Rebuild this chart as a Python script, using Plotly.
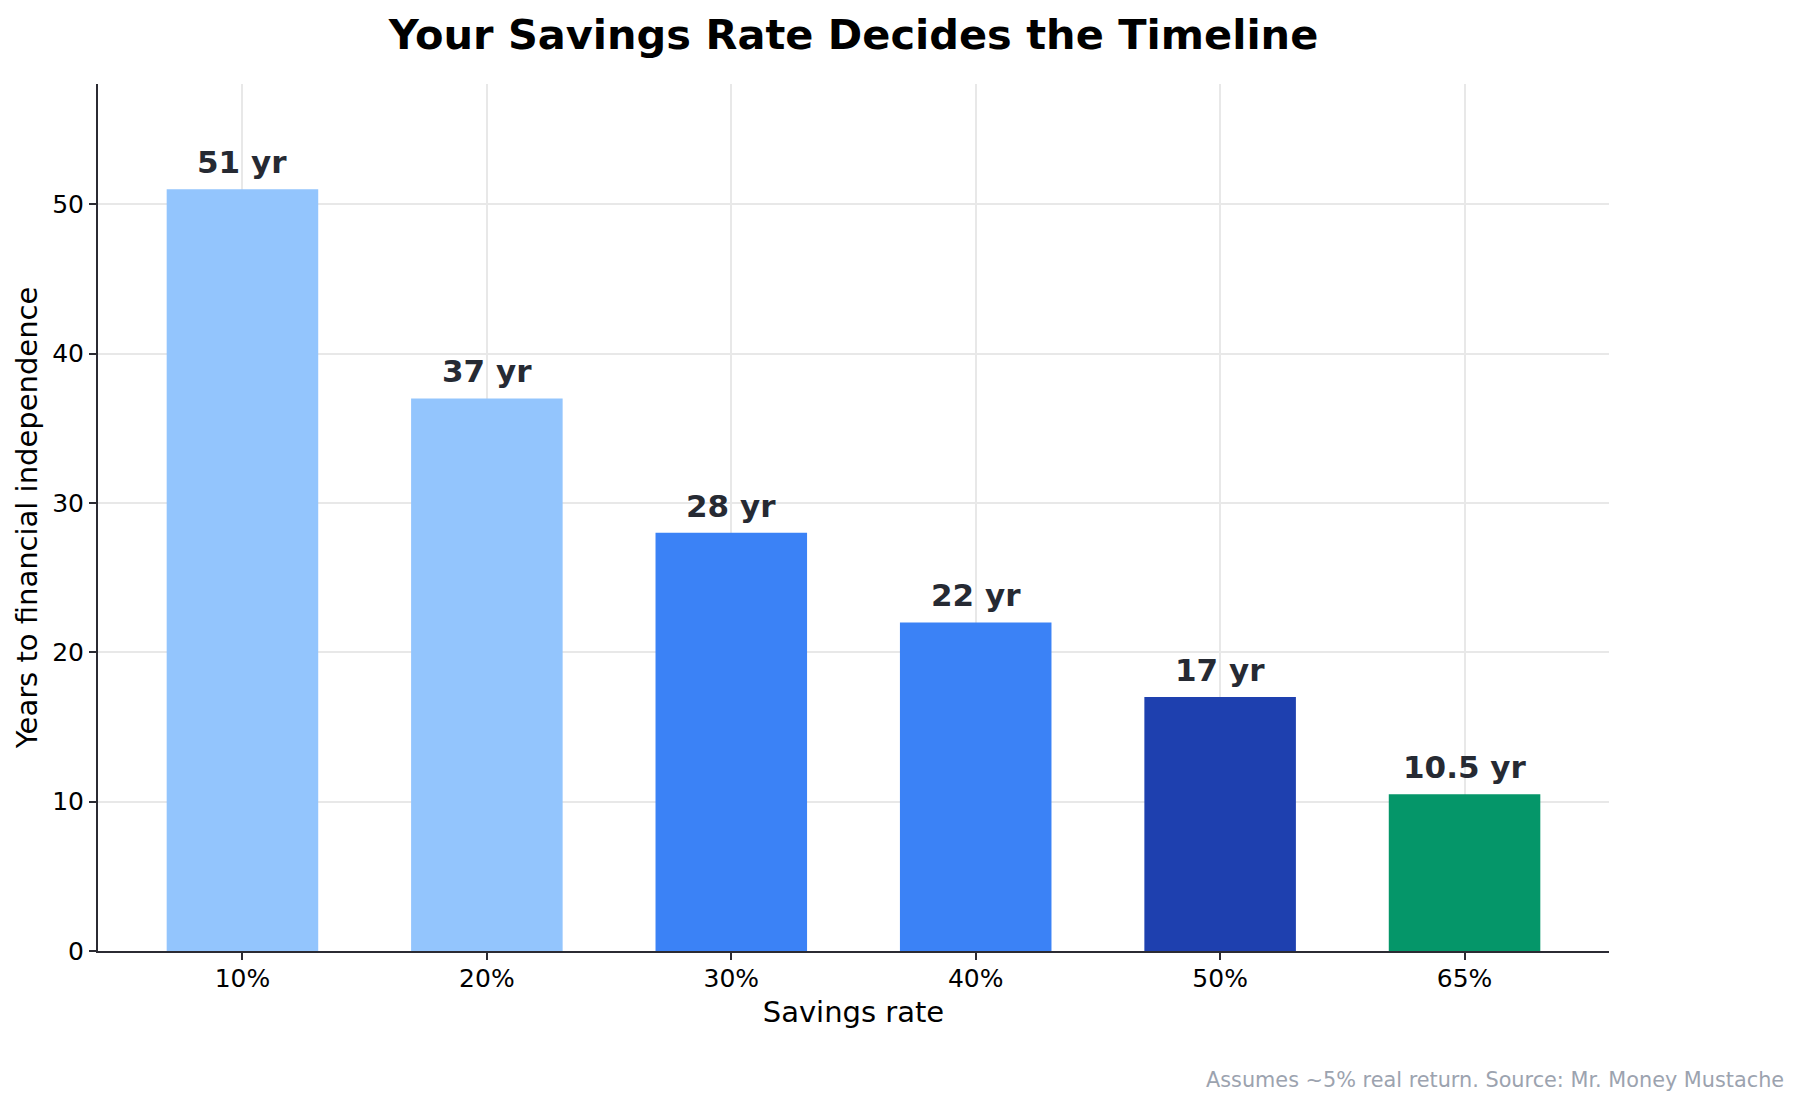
import plotly.graph_objects as go

categories = ["10%", "20%", "30%", "40%", "50%", "65%"]
years = [51, 37, 28, 22, 17, 10.5]
labels = ["51 yr", "37 yr", "28 yr", "22 yr", "17 yr", "10.5 yr"]
colors = ["#93c5fd", "#93c5fd", "#3b82f6", "#3b82f6", "#1e40af", "#059669"]
y_ticks = [0, 10, 20, 30, 40, 50]

FONT = "DejaVu Sans"
AXIS_COLOR = "#2b2b33"
LABEL_COLOR = "#262a33"

# page body adds an 8px offset; the figure is sized to fill the rest of the window
W, H = 1791, 1097
L, R, T, B = 90, 190, 76, 154
PW, PH = W - L - R, H - T - B

fig = go.Figure()
fig.add_trace(go.Bar(
    x=list(range(len(categories))),
    y=years,
    width=0.62,
    marker=dict(color=colors, line=dict(width=0)),
    hoverinfo="skip",
))

for i, (v, t) in enumerate(zip(years, labels)):
    fig.add_annotation(
        x=i, y=v, text=f"<b>{t}</b>", showarrow=False,
        xanchor="center", yanchor="bottom", yshift=7,
        font=dict(family=FONT, size=31, color=LABEL_COLOR),
    )

fig.add_annotation(
    xref="paper", yref="paper",
    x=(1778 - L) / PW, y=-(1072 - (T + PH)) / PH,
    xanchor="right", yanchor="middle", showarrow=False,
    text="Assumes ~5% real return. Source: Mr. Money Mustache",
    font=dict(family=FONT, size=20.8, color="#9ca3af"),
)

fig.update_layout(
    width=W, height=H,
    margin=dict(l=L, r=R, t=T, b=B),
    paper_bgcolor="white", plot_bgcolor="white",
    showlegend=False,
    font=dict(family=FONT, color="black"),
    title=dict(
        text="<b>Your Savings Rate Decides the Timeline</b>",
        x=(L + PW / 2) / W, xref="container", xanchor="center",
        y=1 - 26 / H, yref="container", yanchor="middle",
        font=dict(family=FONT, size=41.5, color="black"),
    ),
    xaxis=dict(
        range=[-0.591, 5.591],
        tickmode="array", tickvals=list(range(len(categories))), ticktext=categories,
        showgrid=True, gridcolor="#e8e8e8", gridwidth=1.5,
        showline=True, linecolor=AXIS_COLOR, linewidth=2,
        ticks="outside", ticklen=7, tickwidth=1.5, tickcolor=AXIS_COLOR,
        ticklabelstandoff=-3,
        tickfont=dict(family=FONT, size=25, color="black"),
        title=dict(text="Savings rate", font=dict(family=FONT, size=29, color="black"), standoff=10),
        zeroline=False,
    ),
    yaxis=dict(
        range=[0, 58.05],
        tickmode="array", tickvals=y_ticks,
        showgrid=True, gridcolor="#e8e8e8", gridwidth=1.5,
        showline=True, linecolor=AXIS_COLOR, linewidth=2,
        ticks="outside", ticklen=7, tickwidth=1.5, tickcolor=AXIS_COLOR,
        tickfont=dict(family=FONT, size=25, color="black"),
        title=dict(text="Years to financial independence", font=dict(family=FONT, size=29, color="black"), standoff=6),
        zeroline=False,
    ),
)

fig.write_html("out.html")
